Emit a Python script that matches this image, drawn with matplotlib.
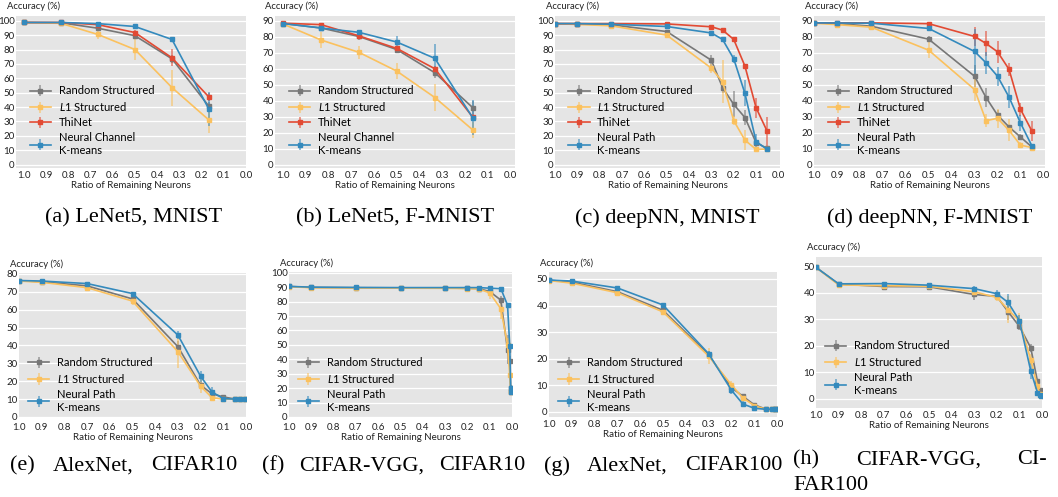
import matplotlib
matplotlib.use("Agg")
import matplotlib.pyplot as plt
from matplotlib.colors import to_rgb

plt.rcParams['font.family'] = ['Lato', 'DejaVu Sans']
plt.rcParams['mathtext.fontset'] = 'custom'
plt.rcParams['mathtext.it'] = 'Lato:italic'
plt.rcParams['mathtext.rm'] = 'Lato'

GREY = '#777777'
YELLOW = '#FBC15E'
RED = '#E24A33'
BLUE = '#348ABD'

# (a) LeNet5, MNIST
x_a = [1.0, 0.833, 0.667, 0.5, 0.333, 0.167]
rand_a = [98.8, 98.6, 94.8, 89.6, 73.5, 40.5]
rand_a_err = [0.3, 0.5, 1.2, 1.5, 3, 3]
l1_a = [98.8, 98.2, 90.5, 80.0, 53.5, 31.0]
l1_a_err = [0.3, 0.8, 3, 7, 12.5, 9]
thi_a = [98.8, 98.8, 97.3, 91.8, 74.2, 47.0]
thi_a_err = [0.2, 0.3, 0.5, 1.5, 6, 3]
km_a = [98.8, 98.8, 98.0, 96.0, 87.0, 38.5]
km_a_err = [0.2, 0.3, 0.5, 0.8, 2, 12]

# (b) LeNet5, F-MNIST
x_b = [1.0, 0.833, 0.667, 0.5, 0.333, 0.167]
rand_b = [88.3, 85.5, 80.2, 72.0, 57.5, 35.7]
rand_b_err = [0.5, 1, 2, 2, 3, 4]
l1_b = [88.0, 78.0, 70.3, 58.5, 42.0, 21.8]
l1_b_err = [0.5, 5, 4, 5, 8.5, 5]
thi_b = [88.5, 87.6, 80.6, 72.7, 60.0, 29.8]
thi_b_err = [0.3, 0.8, 1.5, 1.5, 2, 2]
km_b = [88.3, 85.5, 82.8, 76.7, 66.5, 29.4]
km_b_err = [0.3, 1, 1, 4, 9, 11]

# (c) deepNN, MNIST
x_c = [1.0, 0.9, 0.75, 0.5, 0.3, 0.25, 0.2, 0.15, 0.1, 0.05]
rand_c = [98.0, 97.9, 97.2, 92.5, 72.5, 53.5, 41.8, 32.7, 15.2, 11.2]
rand_c_err = [0.2, 0.3, 0.5, 1, 4, 4, 9, 5, 2, 1]
l1_c = [98.0, 97.4, 96.5, 90.0, 67.0, 57.5, 30.5, 17.0, 10.5, 10.8]
l1_c_err = [0.2, 0.3, 0.5, 2, 3, 15, 3, 7, 1, 0.5]
thi_c = [98.0, 98.0, 98.0, 97.8, 95.8, 93.5, 87.0, 68.5, 39.5, 23.0]
thi_c_err = [0.2, 0.2, 0.3, 0.3, 0.5, 1, 1.5, 1.5, 7, 10]
km_c = [98.0, 98.0, 97.6, 96.0, 91.5, 87.0, 73.5, 49.5, 16.0, 10.5]
km_c_err = [0.2, 0.2, 0.3, 0.5, 0.5, 1.5, 3, 9, 5, 1]

# (d) deepNN, F-MNIST
x_d = [1.0, 0.9, 0.75, 0.5, 0.3, 0.25, 0.2, 0.15, 0.1, 0.05]
rand_d = [88.7, 88.3, 86.6, 78.5, 55.3, 42.0, 31.0, 23.6, 17.3, 11.0]
rand_d_err = [0.3, 0.5, 0.8, 2, 7, 6, 3, 1.5, 2, 0.8]
l1_d = [88.5, 87.6, 86.0, 71.6, 47.0, 27.5, 29.0, 21.5, 12.2, 10.7]
l1_d_err = [0.3, 1, 1, 5, 7, 4, 6, 7, 2, 0.5]
thi_d = [88.7, 88.7, 88.7, 88.2, 80.2, 75.8, 70.6, 59.7, 34.7, 21.0]
thi_d_err = [0.2, 0.3, 0.3, 0.5, 6, 8, 7, 4, 4, 6]
km_d = [88.7, 88.6, 88.5, 85.2, 70.8, 63.7, 55.3, 42.3, 26.1, 11.7]
km_d_err = [0.3, 0.3, 0.3, 1, 14, 7, 6, 7, 5, 1]

# (e) AlexNet, CIFAR10
x_e = [1.0, 0.9, 0.7, 0.5, 0.3, 0.2, 0.15, 0.1, 0.05, 0.025, 0.005]
rand_e = [76.2, 75.6, 73.3, 66.0, 39.3, 17.8, 13.0, 11.2, 10.1, 10.0, 10.0]
rand_e_err = [0.3, 0.5, 0.8, 1, 3, 2, 1.5, 1, 0.3, 0.3, 0.3]
l1_e = [76.0, 75.3, 72.3, 64.8, 36.5, 17.2, 10.8, 10.0, 10.0, 10.0, 10.0]
l1_e_err = [0.3, 0.5, 1, 2, 9, 4, 1, 0.5, 0.3, 0.3, 0.3]
km_e = [76.3, 76.0, 74.6, 69.0, 45.8, 22.8, 14.0, 10.3, 10.0, 10.1, 10.1]
km_e_err = [0.3, 0.3, 0.5, 0.8, 2, 3, 3, 1, 0.3, 0.3, 0.3]

# (f) CIFAR-VGG, CIFAR10
x_f = [1.0, 0.9, 0.7, 0.5, 0.3, 0.2, 0.15, 0.1, 0.05, 0.02, 0.01, 0.006, 0.003]
rand_f = [90.5, 89.8, 89.6, 89.5, 89.4, 89.2, 89.0, 87.0, 81.0, 46.5, 39.0, 20.0, 17.0]
rand_f_err = [0.2, 0.3, 0.3, 0.3, 0.3, 0.3, 0.5, 2, 3, 10, 3, 2, 1]
l1_f = [90.3, 89.6, 89.4, 89.3, 89.2, 89.0, 88.8, 86.0, 75.0, 50.0, 29.0, 18.0, 17.0]
l1_f_err = [0.2, 0.3, 0.3, 0.3, 0.3, 0.3, 0.5, 4, 7, 5, 3, 2, 1]
km_f = [90.5, 90.0, 89.8, 89.7, 89.7, 89.7, 89.7, 89.3, 89.0, 77.5, 49.0, 20.0, 17.5]
km_f_err = [0.2, 0.2, 0.2, 0.2, 0.2, 0.3, 0.3, 1, 1, 1.5, 1.5, 2, 1]

# (g) AlexNet, CIFAR100
x_g = [1.0, 0.9, 0.7, 0.5, 0.3, 0.2, 0.15, 0.1, 0.05, 0.02, 0.01, 0.003]
rand_g = [49.5, 48.8, 45.2, 38.2, 21.5, 9.2, 5.9, 2.7, 1.1, 1.0, 1.0, 1.0]
rand_g_err = [0.2, 0.3, 0.5, 1, 1.5, 1, 1, 0.5, 0.3, 0.2, 0.2, 0.2]
l1_g = [49.4, 48.4, 44.8, 37.6, 21.0, 10.2, 5.3, 2.4, 1.0, 1.0, 1.0, 1.0]
l1_g_err = [0.2, 0.5, 0.5, 1, 3, 1.5, 1, 0.5, 0.3, 0.2, 0.2, 0.2]
km_g = [49.6, 49.2, 46.6, 40.2, 21.9, 8.2, 3.0, 1.4, 1.0, 1.0, 1.0, 1.0]
km_g_err = [0.2, 0.3, 0.3, 0.3, 1, 1.5, 1, 0.5, 0.3, 0.2, 0.2, 0.2]

# (h) CIFAR-VGG, CIFAR100
x_h = [1.0, 0.9, 0.7, 0.5, 0.3, 0.2, 0.15, 0.1, 0.05, 0.02, 0.01, 0.003]
rand_h = [49.5, 43.2, 42.3, 42.2, 39.3, 38.6, 32.8, 27.3, 19.3, 6.6, 3.3, 1.5]
rand_h_err = [0.2, 0.5, 0.8, 0.5, 2, 1, 3, 1.5, 1.5, 1, 0.8, 0.5]
l1_h = [49.5, 42.9, 42.6, 42.4, 40.3, 38.2, 33.6, 29.3, 14.8, 4.8, 2.0, 1.2]
l1_h_err = [0.2, 0.4, 0.5, 0.5, 1, 1.5, 5, 3, 2, 1, 0.5, 0.3]
km_h = [49.5, 43.3, 43.4, 42.8, 41.5, 39.6, 36.3, 29.5, 10.6, 2.4, 1.5, 1.0]
km_h_err = [0.2, 0.4, 0.5, 0.5, 1, 1.5, 3, 2, 3, 0.8, 0.5, 0.3]

W, H = 1058, 497
fig = plt.figure(figsize=(W / 100, H / 100), dpi=100)


def make_axes(l, r, t, b):
    return fig.add_axes([l / W, 1 - b / H, (r - l) / W, (b - t) / H])


def draw(ax, x, series, xlim, ylim, yticks, leg_y=0.05, leg_x=0.04, xpad=2):
    ax.set_facecolor('#E5E5E5')
    for s in ax.spines.values():
        s.set_visible(False)
    ax.grid(axis='y', color='white', lw=0.9)
    ax.set_axisbelow(True)
    for y, err, color, label in series:
        ecol = to_rgb(color) + (0.6,)
        ax.errorbar(x, y, yerr=err, color=color, ecolor=ecol, lw=1.2,
                    elinewidth=1.3, capsize=0, marker='s', ms=2.5,
                    label=label)
    ax.set_xlim(*xlim)
    ax.set_ylim(*ylim)
    ax.set_xticks([1.0, 0.9, 0.8, 0.7, 0.6, 0.5, 0.4, 0.3, 0.2, 0.1, 0.0])
    ax.set_yticks(yticks)
    ax.tick_params(length=0, labelsize=7, colors='#222222')
    ax.tick_params(axis='y', pad=1)
    ax.tick_params(axis='x', pad=xpad)
    ax.set_xlabel('Ratio of Remaining Neurons', fontsize=7, labelpad=1,
                  color='#222222')
    ax.text(-0.04, 1.03, 'Accuracy (%)', transform=ax.transAxes,
            fontsize=6.8, color='#222222', va='bottom', ha='left')
    ax.legend(loc='lower left', bbox_to_anchor=(leg_x, leg_y), frameon=False,
              fontsize=8, handlelength=1.9, handletextpad=0.7,
              borderaxespad=0, labelspacing=0.35)


NC = 'Neural Channel\nK-means'
NP = 'Neural Path\nK-means'
L1 = r'$\mathit{L1}$ Structured'

ax = make_axes(16, 246, 16, 168)
draw(ax, x_a, [(rand_a, rand_a_err, GREY, 'Random Structured'),
               (l1_a, l1_a_err, YELLOW, L1),
               (thi_a, thi_a_err, RED, 'ThiNet'),
               (km_a, km_a_err, BLUE, NC)],
     (1.035, 0.0), (-2.4, 103.3), range(0, 101, 10))

ax = make_axes(275, 515, 16, 168)
draw(ax, x_b, [(rand_b, rand_b_err, GREY, 'Random Structured'),
               (l1_b, l1_b_err, YELLOW, L1),
               (thi_b, thi_b_err, RED, 'ThiNet'),
               (km_b, km_b_err, BLUE, NC)],
     (1.035, -0.019), (-2.1, 93.0), range(0, 91, 10))

ax = make_axes(555, 780, 16, 168)
draw(ax, x_c, [(rand_c, rand_c_err, GREY, 'Random Structured'),
               (l1_c, l1_c_err, YELLOW, L1),
               (thi_c, thi_c_err, RED, 'ThiNet'),
               (km_c, km_c_err, BLUE, NP)],
     (1.0, -0.007), (-2.4, 103.3), range(0, 101, 10))

ax = make_axes(814, 1045, 16, 168)
draw(ax, x_d, [(rand_d, rand_d_err, GREY, 'Random Structured'),
               (l1_d, l1_d_err, YELLOW, L1),
               (thi_d, thi_d_err, RED, 'ThiNet'),
               (km_d, km_d_err, BLUE, NP)],
     (1.0, -0.007), (-2.1, 93.0), range(0, 91, 10))

ax = make_axes(19, 246, 273, 417)
draw(ax, x_e, [(rand_e, rand_e_err, GREY, 'Random Structured'),
               (l1_e, l1_e_err, YELLOW, L1),
               (km_e, km_e_err, BLUE, NP)],
     (1.0, 0.0), (0, 80.5), range(0, 81, 10),
     leg_y=0.0, leg_x=0.02, xpad=4)

ax = make_axes(289, 512, 272, 417)
draw(ax, x_f, [(rand_f, rand_f_err, GREY, 'Random Structured'),
               (l1_f, l1_f_err, YELLOW, L1),
               (km_f, km_f_err, BLUE, NP)],
     (1.0, 0.0), (0, 100.5), range(0, 101, 10),
     leg_y=0.0, leg_x=0.02, xpad=4)

ax = make_axes(549, 777, 272, 417)
draw(ax, x_g, [(rand_g, rand_g_err, GREY, 'Random Structured'),
               (l1_g, l1_g_err, YELLOW, L1),
               (km_g, km_g_err, BLUE, NP)],
     (1.0, 0.0), (-1.9, 52.6), range(0, 51, 10),
     leg_y=0.0, leg_x=0.02)

ax = make_axes(816, 1042, 257, 408)
draw(ax, x_h, [(rand_h, rand_h_err, GREY, 'Random Structured'),
               (l1_h, l1_h_err, YELLOW, L1),
               (km_h, km_h_err, BLUE, NP)],
     (1.0, 0.0), (-3.4, 53.4), range(0, 51, 10),
     leg_x=0.02)

# captions
cap = dict(fontsize=16, family='Liberation Serif', va='center')
renderer = fig.canvas.get_renderer()


def justified(words, x0, x1, y):
    # spread words across the column like a justified LaTeX line
    texts = [fig.text(0, 1 - y / H, w, ha='left', **cap) for w in words]
    widths = [t.get_window_extent(renderer).width for t in texts]
    gap = (x1 - x0 - sum(widths)) / (len(words) - 1)
    x = x0
    for t, w in zip(texts, widths):
        t.set_x(x / W)
        x += w + gap


fig.text(134 / W, 1 - 218 / H, '(a) LeNet5, MNIST', ha='center', **cap)
fig.text(395 / W, 1 - 218 / H, '(b) LeNet5, F-MNIST', ha='center', **cap)
fig.text(667 / W, 1 - 218 / H, '(c) deepNN, MNIST', ha='center', **cap)
fig.text(930 / W, 1 - 218 / H, '(d) deepNN, F-MNIST', ha='center', **cap)
justified(['(e)', 'AlexNet,', 'CIFAR10'], 10, 237, 466)
justified(['(f)', 'CIFAR-VGG,', 'CIFAR10'], 262, 525, 466)
justified(['(g)', 'AlexNet,', 'CIFAR100'], 544, 782, 466)
justified(['(h)', 'CIFAR-VGG,', 'CI-'], 793, 1047, 460)
fig.text(793 / W, 1 - 485 / H, 'FAR100', ha='left', **cap)

fig.savefig('out.png', dpi=100)
